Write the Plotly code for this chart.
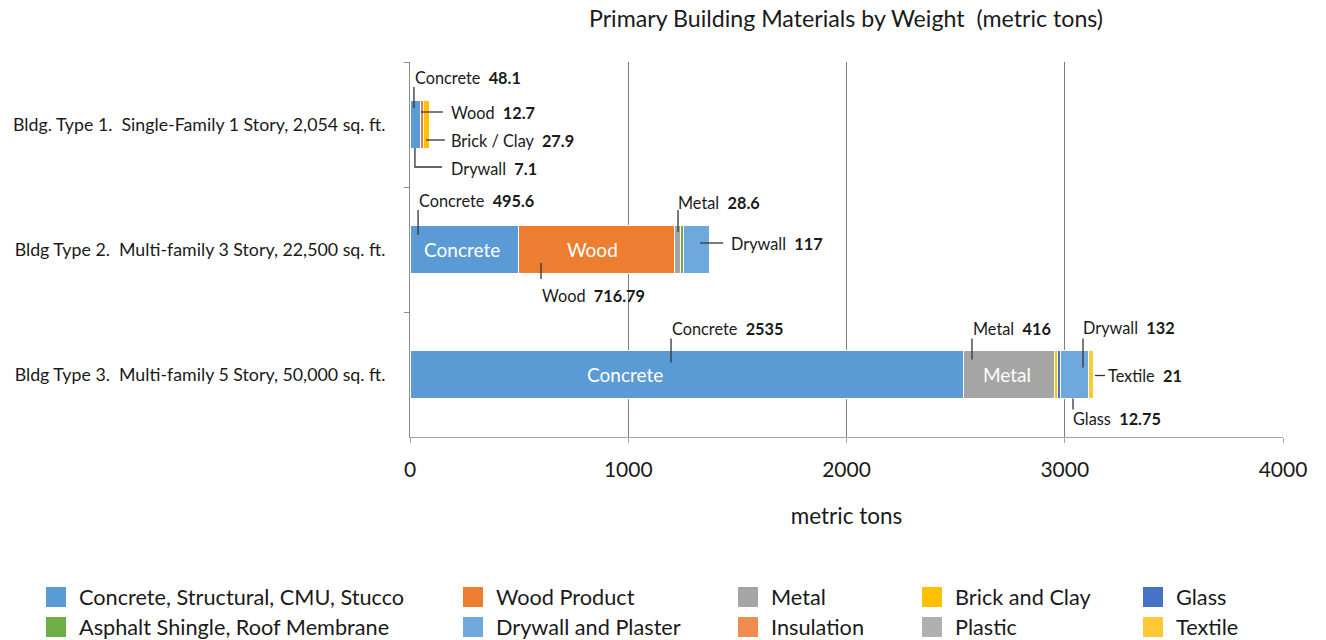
import plotly.graph_objects as go

# ---- data -------------------------------------------------------------
buildings = [
    "Bldg. Type 1.\u00a0 Single-Family 1 Story, 2,054 sq. ft.",
    "Bldg Type 2.\u00a0 Multi-family 3 Story, 22,500 sq. ft.",
    "Bldg Type 3.\u00a0 Multi-family 5 Story, 50,000 sq. ft.",
]

materials = [
    "Concrete, Structural, CMU, Stucco",
    "Wood Product",
    "Metal",
    "Brick and Clay",
    "Glass",
    "Asphalt Shingle, Roof Membrane",
    "Drywall and Plaster",
    "Insulation",
    "Plastic",
    "Textile",
]

# metric tons per building type (Type 1, Type 2, Type 3)
concrete = [48.1, 495.6, 2535]
wood = [12.7, 716.79, None]
metal = [None, 28.6, 416]
brick = [27.9, None, 15]
glass = [None, None, 12.75]
asphalt = [None, 14, None]
drywall = [7.1, 117, 132]
insulation = [None, None, None]
plastic = [None, None, None]
textile = [None, None, 21]

series = [concrete, wood, metal, brick, glass, asphalt, drywall, insulation, plastic, textile]

colors = ["#5B9BD5", "#ED7D31", "#A5A5A5", "#FFC000", "#4472C4",
          "#70AD47", "#6FA8DC", "#F08C4F", "#B0B0B0", "#FFC935"]

FONT = "Lato, 'Open Sans', sans-serif"
TEXT = "#1a1a1a"

fig = go.Figure()
for name, vals, col in zip(materials, series, colors):
    fig.add_trace(go.Bar(
        y=buildings, x=vals, name=name, orientation="h",
        marker=dict(color=col, line=dict(color="white", width=1)),
        showlegend=False,
    ))


def segment(mat_idx, row):
    """Start, midpoint and value of one stacked segment."""
    start = sum((series[j][row] or 0) for j in range(mat_idx))
    v = series[mat_idx][row]
    return start, start + v / 2.0, v


# ---- value call-outs with leader lines --------------------------------
# (row, material index, word, text offset px, leader polyline px)
callouts = [
    (0, 0, "Concrete", (-2, -47.5), [(-1.3, -37.5), (-1.3, -16.5)]),
    (0, 1, "Wood", (27, -12.5), [(-0.9, -12.5), (21, -12.5)]),
    (0, 3, "Brick / Clay", (22.6, 15.5), [(-0.4, 15.5), (18.6, 15.5)]),
    (0, 6, "Drywall", (18.8, 43.5), [(-15.2, 23.5), (-15.2, 42.5), (11.8, 42.5)]),
    (1, 0, "Concrete", (-47, -49.5), [(-46, -39.5), (-46, -14.5)]),
    (1, 1, "Wood", (-56, 45.5), [(-55.4, 13.5), (-55.4, 29.5)]),
    (1, 2, "Metal", (-2, -47.5), [(0.3, -39.5), (0.3, -17.5)]),
    (1, 6, "Drywall", (32, -6.5), [(3.4, -6.5), (26.4, -6.5)]),
    (2, 0, "Concrete", (-17, -46), [(-15.6, -36), (-15.6, -12)]),
    (2, 2, "Metal", (-38, -46), [(-36.7, -36), (-36.7, -15)]),
    (2, 6, "Drywall", (6.5, -47), [(8.5, -36), (8.5, -7)]),
    (2, 9, "Textile", (15, 1), [(3.8, 1), (13.8, 1)]),
    (2, 4, "Glass", (12, 43.5), [(14.3, 24), (14.3, 35)]),
]

annotations = []
shapes = []
for row, mi, word, (tx, ty), pts in callouts:
    _, mid, v = segment(mi, row)
    annotations.append(dict(
        x=mid, y=buildings[row], xref="x", yref="y",
        xshift=tx, yshift=-ty, xanchor="left", yanchor="middle",
        text=f"{word}\u00a0 <b>{v:g}</b>", showarrow=False,
        font=dict(family=FONT, size=16.3, color=TEXT),
    ))
    path = "M" + " L".join(f"{dx},{-dy}" for dx, dy in pts)
    shapes.append(dict(
        type="path", xref="x", yref="y", xsizemode="pixel", ysizemode="pixel",
        xanchor=mid, yanchor=buildings[row], path=path,
        line=dict(color="#333333", width=1.3),
    ))

# names printed inside the large segments
inside = [
    (1, 0, "Concrete", -2),
    (1, 1, "Wood", -4),
    (2, 0, "Concrete", -62),
    (2, 2, "Metal", -2),
]
for row, mi, word, dx in inside:
    _, mid, _ = segment(mi, row)
    annotations.append(dict(
        x=mid, y=buildings[row], xref="x", yref="y", xshift=dx,
        text=word, showarrow=False,
        font=dict(family=FONT, size=19, color="white"),
    ))

# ---- legend (5 columns x 2 rows) ---------------------------------------
L, T, W, H = 410, 62, 873, 375
def px_x(p):
    return (p - L) / W
def px_y(p):
    return (T + H - p) / H

col_left = [46, 463, 738, 922, 1143]
row_mid = [597, 627]
for i, (name, col) in enumerate(zip(materials, colors)):
    r, c = divmod(i, 5)
    x0 = col_left[c]
    yc = row_mid[r]
    shapes.append(dict(
        type="rect", xref="paper", yref="paper",
        x0=px_x(x0), x1=px_x(x0 + 20), y0=px_y(yc + 10), y1=px_y(yc - 10),
        fillcolor=col, line=dict(color=col, width=0),
    ))
    annotations.append(dict(
        x=px_x(x0 + 31), y=px_y(yc), xref="paper", yref="paper",
        xanchor="left", yanchor="middle", text=name, showarrow=False,
        font=dict(family=FONT, size=21.7, color=TEXT),
    ))

fig.update_layout(
    barmode="stack",
    bargap=0.616,
    width=1326, height=640,
    margin=dict(l=L, r=1326 - L - W, t=T, b=640 - T - H),
    paper_bgcolor="white", plot_bgcolor="white",
    font=dict(family=FONT, color=TEXT),
    title=dict(
        text="Primary Building Materials by Weight\u00a0 (metric tons)",
        x=px_x(846), xref="paper", xanchor="center",
        y=1 - 19 / 640, yref="container", yanchor="middle",
        font=dict(family=FONT, size=23.2, color=TEXT),
    ),
    xaxis=dict(
        range=[0, 4000], dtick=1000, tick0=0,
        showgrid=True, gridcolor="#7f7f7f", gridwidth=1,
        zeroline=False,
        showline=True, linecolor="#a6a6a6", linewidth=1,
        ticks="outside", ticklen=5, tickcolor="#a6a6a6",
        ticklabelstandoff=9,
        tickfont=dict(family=FONT, size=21, color=TEXT),
        title=dict(text="metric tons", standoff=28,
                   font=dict(family=FONT, size=22.5, color=TEXT)),
    ),
    yaxis=dict(
        type="category", categoryorder="array", categoryarray=buildings,
        range=[2.5, -0.5],
        showgrid=False, zeroline=False,
        showline=True, linecolor="#8c8c8c", linewidth=1,
        ticks="outside", tickson="boundaries", ticklen=5, tickcolor="#8c8c8c",
        ticklabelstandoff=20,
        tickfont=dict(family=FONT, size=17.8, color=TEXT),
    ),
    annotations=annotations,
    shapes=shapes,
)

fig.write_html("out.html")
